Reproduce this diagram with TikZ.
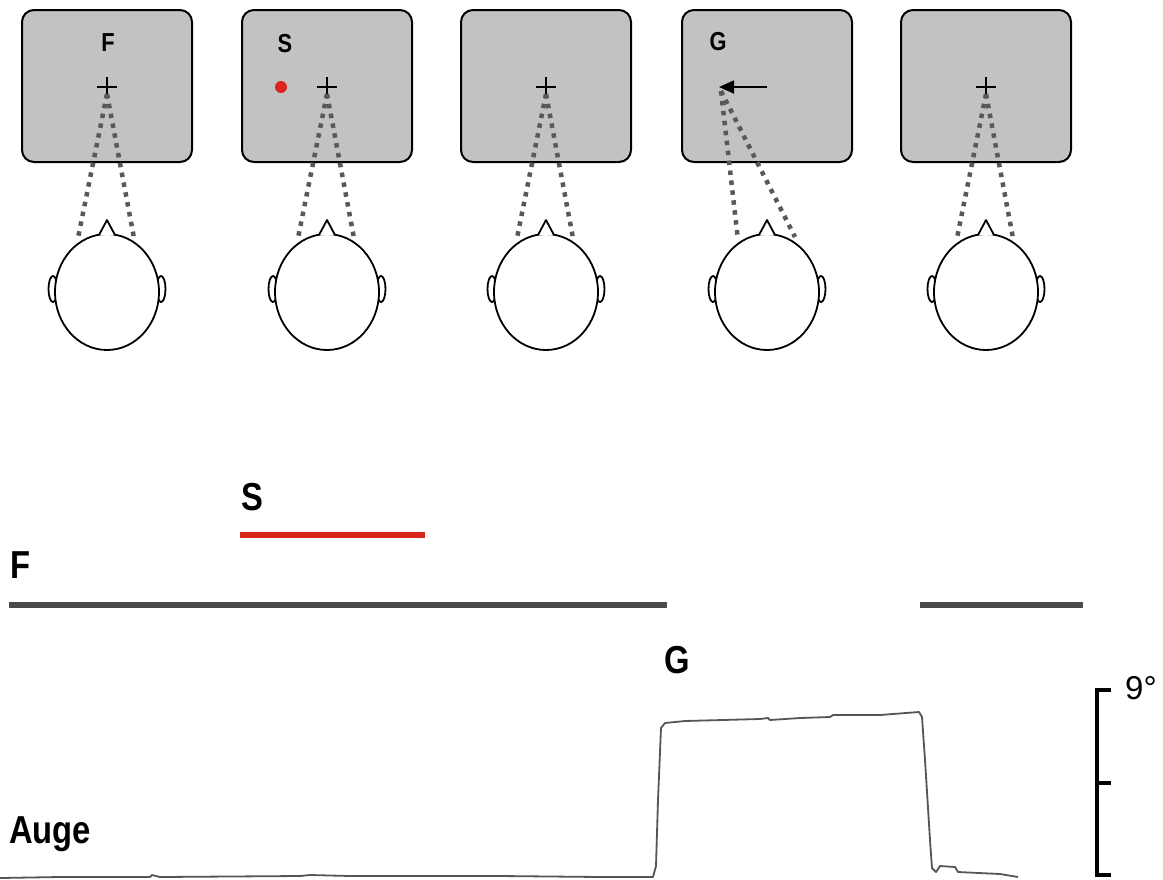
\documentclass[tikz,border=0pt]{standalone}
\usepackage{fontspec}
\setmainfont{Liberation Sans}
\newfontfamily\labfont[FakeStretch=0.84]{Liberation Sans}
\usetikzlibrary{arrows.meta,shapes.geometric}
\definecolor{screengray}{HTML}{C2C2C2}
\definecolor{dotgray}{HTML}{595959}
\definecolor{bargray}{HTML}{4A4A4A}
\definecolor{stimred}{HTML}{D9251D}
\definecolor{tracegray}{HTML}{555555}
\begin{document}
\begin{tikzpicture}[x=1pt,y=-1pt,
  screen/.style={draw=black, line width=2pt, fill=screengray, rounded corners=12pt,
    minimum width=170pt, minimum height=152pt, inner sep=0pt},
  gaze/.style={dotgray, line width=4.5pt, dash pattern=on 4.5pt off 5.5pt},
  outline/.style={line width=1.8pt},
  smalllab/.style={font=\labfont\bfseries\fontsize{26}{26}\selectfont, inner sep=0pt},
  biglab/.style={font=\labfont\bfseries\fontsize{39}{39}\selectfont, inner sep=0pt},
  timebar/.style={line width=6pt},
]
\useasboundingbox (0,0) rectangle (1163,879);

% screens, heads with ears and nose
\foreach \i/\cx in {1/107,2/327,3/546,4/767,5/986}{
  \node[screen] (scr\i) at (\cx,86) {};
  \draw[outline] (\cx-54,289) ellipse [x radius=4.5, y radius=13];
  \draw[outline] (\cx+54,289) ellipse [x radius=4.5, y radius=13];
  \draw[outline, fill=white] (\cx,292) ellipse [x radius=52, y radius=58];
  \draw[outline, fill=white, line join=round] (\cx-8,235) -- (\cx,220) -- (\cx+8,235);
  \coordinate (eyeL\i) at (\cx-29,238);
  \coordinate (eyeR\i) at (\cx+27,238);
}
% fixation crosses and lines of gaze
\foreach \i/\cx in {1/107,2/327,3/546,5/986}{
  \coordinate (fix\i) at (\cx,87);
  \draw[outline] (\cx-10,87) -- (\cx+10,87) (\cx,77) -- (\cx,97);
  \coordinate (gz\i) at (\cx,94);
  \draw[gaze] (gz\i) -- (eyeL\i);
  \draw[gaze] (gz\i) -- (eyeR\i);
}

% screen labels and stimulus
\node[smalllab] (labF) at (108,43) {F};
\node[smalllab] (labS) at (285,44) {S};
\node[smalllab] (labG) at (718,42) {G};
\node[circle, fill=stimred, minimum size=12pt, inner sep=0pt] (dot) at (281,87) {};

% saccade arrow on the fourth screen
\coordinate (arrA) at (767,87);
\coordinate (arrB) at (719,87);
\draw[line width=1.8pt, -{Triangle[length=15pt,width=13pt]}] (arrA) -- (arrB);
\coordinate (gz4) at (721,91);
\coordinate (eyeL4) at (738,240);
\coordinate (eyeR4) at (795,237);
\draw[gaze] (gz4) -- (eyeL4);
\draw[gaze] (gz4) -- (eyeR4);

% timing bars
\node[biglab] (tS) at (252,497) {S};
\node[biglab] (tF) at (21,565) {F};
\coordinate (s0) at (240,535); \coordinate (s1) at (425,535);
\draw[timebar, stimred] (s0) -- (s1);
\coordinate (f0) at (9,605); \coordinate (f1) at (667,605);
\coordinate (f2) at (920,605); \coordinate (f3) at (1083,605);
\draw[timebar, bargray] (f0) -- (f1);
\draw[timebar, bargray] (f2) -- (f3);

% eye position trace
\node[biglab] (tG) at (677,660) {G};
\node[biglab] (tAuge) at (50,834) {Auge};
\draw[tracegray, line width=1.8pt, line join=round]
  (0,878) -- (60,877) -- (150,877) -- (152,875) -- (160,877) -- (300,876) -- (310,875)
  -- (350,876) -- (500,876) -- (600,877) -- (653,877) -- (656,866) -- (658,800)
  -- (661,728) -- (665,723) -- (685,721) -- (760,719) -- (768,718) -- (770,720)
  -- (800,718) -- (830,717) -- (833,715) -- (880,715) -- (919,712) -- (922,717)
  -- (925,760) -- (930,840) -- (932,868) -- (936,872) -- (940,866) -- (955,867)
  -- (958,872) -- (1000,874) -- (1018,877);

% 9 degree scale bar
\coordinate (b0) at (1097,690); \coordinate (b1) at (1097,875);
\coordinate (bm) at (1097,783);
\draw[line width=4pt] (1111,690) -- (b0) -- (b1) -- (1111,875);
\draw[line width=4pt] (bm) -- (1111,783);
\node[font=\fontsize{33}{33}\selectfont, inner sep=0pt, anchor=west] (deg) at (1125,688) {9°};
\end{tikzpicture}
\end{document}
